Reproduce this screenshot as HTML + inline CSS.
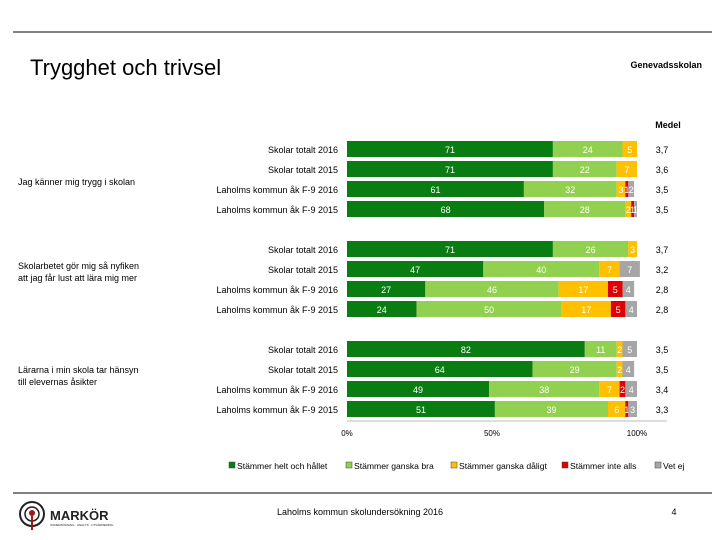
<!DOCTYPE html>
<html><head><meta charset="utf-8"><style>
body{margin:0;background:#fff;font-family:"Liberation Sans",sans-serif;}
#wrap{position:relative;width:720px;height:540px;overflow:hidden;}
</style></head><body>
<div id="wrap">
<svg id="chart" width="720" height="540" font-family="Liberation Sans, sans-serif">
<line x1="13" y1="32" x2="712" y2="32" stroke="#000" stroke-width="1"/>
<text x="30" y="75" font-size="22" fill="#000">Trygghet och trivsel</text>
<text x="702" y="68" font-size="9" font-weight="bold" text-anchor="end">Genevadsskolan</text>
<text x="668" y="128" font-size="9" font-weight="bold" text-anchor="middle">Medel</text>
<text x="18" y="185" font-size="9">Jag känner mig trygg i skolan</text>
<text x="18" y="269" font-size="9"><tspan x="18">Skolarbetet gör mig så nyfiken</tspan><tspan x="18" dy="12">att jag får lust att lära mig mer</tspan></text>
<text x="18" y="373" font-size="9"><tspan x="18">Lärarna i min skola tar hänsyn</tspan><tspan x="18" dy="12">till elevernas åsikter</tspan></text>
<g id="bars"></g>
<line x1="347" y1="421" x2="667" y2="421" stroke="#bbb"/>
<g id="xticks"></g>
<g id="legend"></g>
<line x1="13" y1="493" x2="712" y2="493" stroke="#000"/>
<g>
<circle cx="32" cy="514" r="12" fill="none" stroke="#222" stroke-width="2"/>
<circle cx="32" cy="514" r="7" fill="none" stroke="#222" stroke-width="1.5"/>
<circle cx="32" cy="513" r="3" fill="#a01818"/>
<line x1="32" y1="516" x2="32" y2="530" stroke="#a01818" stroke-width="2"/>
<text x="50" y="520" font-size="13" font-weight="bold" fill="#222">MARKÖR</text>
<text x="50" y="526" font-size="3" fill="#222">UNDERSÖKNING · ANALYS · UTVÄRDERING</text>
</g>
<text x="360" y="515" font-size="9" text-anchor="middle">Laholms kommun skolundersökning 2016</text>
<text x="674" y="515" font-size="9" text-anchor="middle">4</text>
</svg>
</div>
<script>
const rowLabels=["Skolar totalt 2016","Skolar totalt 2015","Laholms kommun åk F-9 2016","Laholms kommun åk F-9 2015","Skolar totalt 2016","Skolar totalt 2015","Laholms kommun åk F-9 2016","Laholms kommun åk F-9 2015","Skolar totalt 2016","Skolar totalt 2015","Laholms kommun åk F-9 2016","Laholms kommun åk F-9 2015"];
const heltOchHallet=[71,71,61,68,71,47,27,24,82,64,49,51];
const ganskaBra=[24,22,32,28,26,40,46,50,11,29,38,39];
const ganskaDaligt=[5,7,3,2,3,7,17,17,2,2,7,6];
const inteAlls=[0,0,1,1,0,0,5,5,0,0,2,1];
const vetEj=[0,0,2,1,0,7,4,4,5,4,4,3];
const medel=["3,7","3,6","3,5","3,5","3,7","3,2","2,8","2,8","3,5","3,5","3,4","3,3"];
const seriesNames=["Stämmer helt och hållet","Stämmer ganska bra","Stämmer ganska dåligt","Stämmer inte alls","Vet ej"];
const xTicks=[0,50,100];
const colors=["#0a7d12","#92d050","#ffc000","#e00000","#a6a6a6"];
const NS="http://www.w3.org/2000/svg";
const x0=347,x1=637;
function xs(v){return x0+(x1-x0)*v/100;}
function rowY(i){return 141+i*20+Math.floor(i/4)*20;}
const series=[heltOchHallet,ganskaBra,ganskaDaligt,inteAlls,vetEj];
const bars=document.getElementById('bars');
function mk(tag,attrs,parent){const e=document.createElementNS(NS,tag);for(const k in attrs)e.setAttribute(k,attrs[k]);parent.appendChild(e);return e;}
rowLabels.forEach((lab,i)=>{
  const y=rowY(i);
  const t=mk('text',{x:338,y:y+12,'font-size':9,'text-anchor':'end'},bars);
  t.textContent=lab;
  
  
  let acc=0;
  series.forEach((s,k)=>{
    const v=s[i];if(!v)return;
    const r=mk('rect',{x:xs(acc),y:y,width:xs(acc+v)-xs(acc),height:16,fill:colors[k]},bars);
    
    
    const lt=mk('text',{x:(xs(acc)+xs(acc+v))/2,y:y+12,'font-size':9,'text-anchor':'middle',fill:'#fff'},bars);
    lt.textContent=v;
    
    
    acc+=v;
  });
  const m=mk('text',{x:662,y:y+12,'font-size':9,'text-anchor':'middle'},bars);
  m.textContent=medel[i];
  
  
});
const xt=document.getElementById('xticks');
xTicks.forEach(v=>{
  const t=mk('text',{x:xs(v),y:436,'font-size':8,'text-anchor':'middle'},xt);
  t.textContent=v+'%';
  
  
});
const lg=document.getElementById('legend');
let lx=229;
const lw=[117,105,111,93,40];
seriesNames.forEach((n,k)=>{
  const r=mk('rect',{x:lx,y:462,width:6,height:6,fill:colors[k],stroke:'#444','stroke-width':0.5},lg);
  
  
  const t=mk('text',{x:lx+8,y:469,'font-size':8.6},lg);
  t.textContent=n;
  
  
  lx+=lw[k];
});
</script>
</body></html>
